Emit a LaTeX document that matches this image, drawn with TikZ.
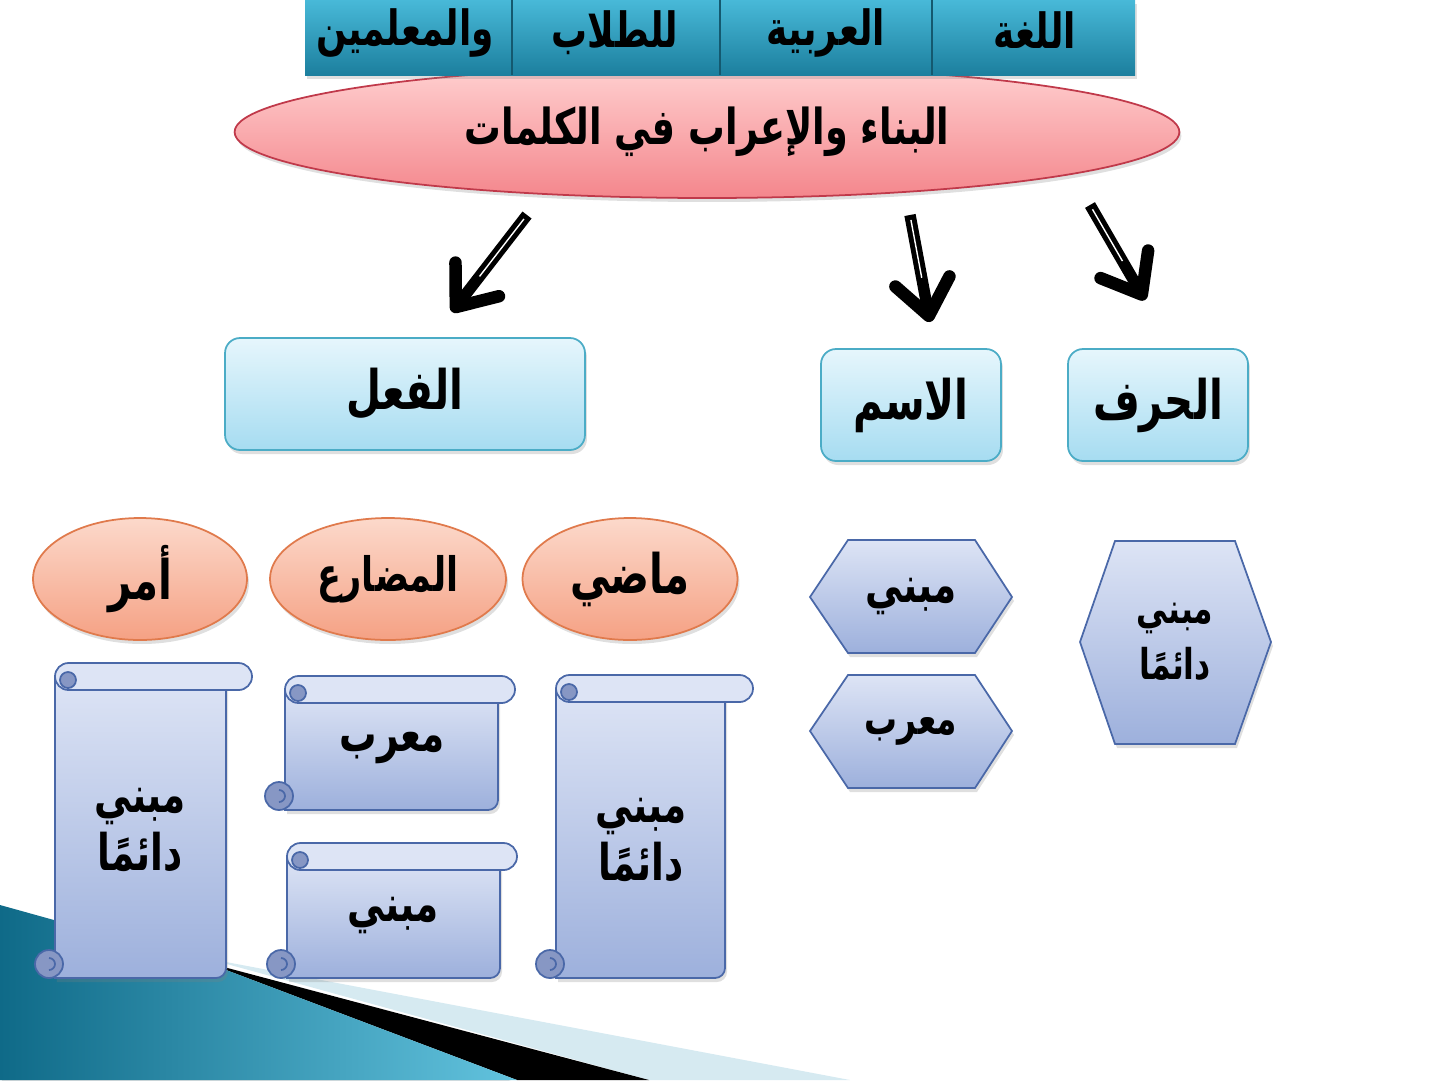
\documentclass[tikz,border=0pt]{standalone}
\usepackage{graphicx}
\usepackage{fontspec}
\newfontfamily\arabicfont[Script=Arabic]{DejaVu Sans}
\TeXXeTstate=1
\usetikzlibrary{shapes.geometric,arrows.meta,shadows}
\newcommand\ar[1]{\scalebox{0.85}[1.15]{\arabicfont\bfseries\beginR #1\endR}}
\definecolor{bannertop}{HTML}{48B9D8}
\definecolor{bannerbot}{HTML}{1C7F9E}
\definecolor{titletop}{HTML}{FFD0D0}
\definecolor{titlebot}{HTML}{F4868C}
\definecolor{titleline}{HTML}{C0394A}
\definecolor{boxtop}{HTML}{E6F6FC}
\definecolor{boxbot}{HTML}{A6DCF1}
\definecolor{boxline}{HTML}{4BACC6}
\definecolor{tensetop}{HTML}{FCD9CB}
\definecolor{tensebot}{HTML}{F5A184}
\definecolor{tenseline}{HTML}{E07A4C}
\definecolor{papertop}{HTML}{DDE4F5}
\definecolor{paperbot}{HTML}{9DB0DC}
\definecolor{paperline}{HTML}{4A68A8}
\definecolor{papercurl}{HTML}{8797C4}
\definecolor{bandlight}{HTML}{D6EAF1}
\definecolor{banddark}{HTML}{0F6A88}
\definecolor{bandbright}{HTML}{62C3DE}
\tikzset{
  shade/.style={drop shadow={shadow xshift=0.04cm, shadow yshift=-0.08cm, opacity=0.25}},
  headline/.style={ellipse, draw=titleline, line width=1pt, top color=titletop,
    bottom color=titlebot, minimum width=18.9cm, minimum height=2.64cm, shade,
    font=\fontsize{24.5}{28}\selectfont},
  wordbox/.style={rounded corners=0.3cm, draw=boxline, line width=1pt, top color=boxtop,
    bottom color=boxbot, minimum height=2.24cm, shade, font=\fontsize{27}{32}\selectfont},
  tense/.style={ellipse, draw=tenseline, line width=1pt, top color=tensetop,
    bottom color=tensebot, minimum height=2.44cm, shade, font=\fontsize{27}{30}\selectfont},
  hexa/.style={draw=paperline, line width=1pt, top color=papertop, bottom color=paperbot, shade},
  paper/.style={draw=paperline, line width=1pt, top color=papertop, bottom color=paperbot, shade},
  paperroll/.style={draw=paperline, line width=1pt, fill=papertop, rounded corners=0.27cm},
  papercurl/.style={draw=paperline, line width=1pt, fill=papercurl},
  bannerword/.style={font=\fontsize{24}{28}\selectfont},
  label/.style={align=center, font=\fontsize{25}{33}\selectfont},
  bigarrow/.style={line width=6.5pt, -{Straight Barb[length=0.7cm, width=1.1cm, line width=0.25cm, round]},
    postaction={draw=white, line width=0.8pt, arrows=-, shorten >=0.9cm, shorten <=0.1cm}},
}
\newcommand\scroll[5]{% body left, body right, roll right, top, bottom
  \draw[paper] (#1,#4+14) -- (#1,#5) -- (#2-10,#5) [rounded corners=0.2cm] -- (#2,#5) -- (#2,#4+14);
  \draw[paperroll] (#1,#4) rectangle (#3,#4+27);
  \draw[papercurl] (#1+13,#4+17) circle (0.16cm);
  \draw[papercurl] (#1-6,#5-14) circle (0.28cm);
  \draw[paperline, line width=1pt] (#1-6,#5-8) arc[start angle=-90, end angle=90, radius=0.12cm];
}
\begin{document}
\begin{tikzpicture}[x=0.02cm, y=-0.02cm]
  \useasboundingbox (0,0) rectangle (1440,1080);
  % corner band
  \fill[bandlight] (205,958) -- (850,1080) -- (649,1080) -- cycle;
  \fill[black] (205,962) -- (649,1080) -- (517,1080) -- cycle;
  \shade[left color=banddark, right color=bandbright] (0,905) -- (205,962) -- (517,1080) -- (0,1080) -- cycle;
  % title
  \node[headline] (title) at (707,132) {\ar{البناء والإعراب في الكلمات}};
  % banner
  \shade[top color=bannertop, bottom color=bannerbot] (305,0) rectangle (1135,75);
  \foreach \x in {512,720,932}
    \draw[bannerbot!70!black, line width=1.5pt] (\x,0) -- (\x,75);
  \node[bannerword] (lugha) at (1035,30) {\ar{اللغة}};
  \node[bannerword] (arabiya) at (826,33) {\ar{العربية}};
  \node[bannerword] (tullab) at (615,33) {\ar{للطلاب}};
  \node[bannerword] (muallimin) at (405,33) {\ar{والمعلمين}};
  % word kinds
  \node[wordbox, minimum width=7.2cm] (fiel) at (405,394) {\ar{الفعل}};
  \node[wordbox, minimum width=3.6cm] (ism) at (911,405) {\ar{الاسم}};
  \node[wordbox, minimum width=3.6cm] (harf) at (1158,405) {\ar{الحرف}};
  \coordinate (fromfiel) at (527,215);
  \coordinate (tofiel) at (452,312);
  \coordinate (fromism) at (910,215);
  \coordinate (toism) at (930,322);
  \coordinate (fromharf) at (1090,205);
  \coordinate (toharf) at (1145,300);
  \draw[bigarrow] (fromfiel) -- (tofiel);
  \draw[bigarrow] (fromism) -- (toism);
  \draw[bigarrow] (fromharf) -- (toharf);
  % tenses
  \node[tense, minimum width=4.28cm] (amr) at (140,579) {\ar{أمر}};
  \node[tense, minimum width=4.72cm, font=\fontsize{23.5}{28}\selectfont] (mudari) at (388,579) {\ar{المضارع}};
  \node[tense, minimum width=4.3cm] (madi) at (630,579) {\ar{ماضي}};
  % hexagons
  \draw[hexa] (810,597) -- (848,540) -- (975,540) -- (1012,597) -- (975,653) -- (848,653) -- cycle;
  \draw[hexa] (810,731) -- (848,675) -- (975,675) -- (1012,731) -- (975,788) -- (848,788) -- cycle;
  \draw[hexa] (1080,642) -- (1115,541) -- (1235,541) -- (1271,642) -- (1235,744) -- (1115,744) -- cycle;
  \node[label] (ismmabni) at (911,597) {\ar{مبني}};
  \node[label, font=\fontsize{22}{26}\selectfont] (ismmuarab) at (911,731) {\ar{معرب}};
  \node[label, font=\fontsize{21}{32}\selectfont] (harfmabni) at (1175,642) {\ar{مبني}\\\ar{دائمًا}};
  % scrolls
  \scroll{55}{226}{252}{663}{978}
  \scroll{285}{498}{515}{676}{810}
  \scroll{287}{500}{517}{843}{978}
  \scroll{556}{725}{753}{675}{978}
  \node[label] (amrmabni) at (140,830) {\ar{مبني}\\\ar{دائمًا}};
  \node[label] (mudarimuarab) at (392,748) {\ar{معرب}};
  \node[label] (mudarimabni) at (393,915) {\ar{مبني}};
  \node[label] (madimabni) at (641,840) {\ar{مبني}\\\ar{دائمًا}};
\end{tikzpicture}
\end{document}
